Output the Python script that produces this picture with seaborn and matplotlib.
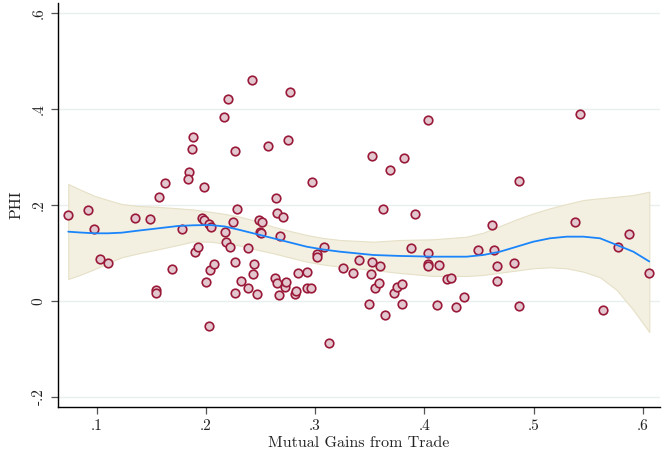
import matplotlib
matplotlib.use("Agg")
import matplotlib.pyplot as plt
import seaborn as sns
import pandas as pd

# ---- scatter data ----
gains = [0.0734, 0.0918, 0.0978, 0.1027, 0.1106, 0.1351, 0.1488, 0.1543, 0.1546, 0.1573,
         0.1625, 0.1692, 0.1781, 0.1842, 0.1839, 0.1873, 0.1885, 0.1903, 0.1930, 0.1962,
         0.1983, 0.1985, 0.1998, 0.2028, 0.2031, 0.2047, 0.2040, 0.2077, 0.2166, 0.2175,
         0.2184, 0.2200, 0.2218, 0.2251, 0.2266, 0.2266, 0.2269, 0.2282, 0.2326, 0.2387,
         0.2385, 0.2425, 0.2436, 0.2445, 0.2471, 0.2489, 0.2514, 0.2498, 0.2502, 0.2566,
         0.2636, 0.2642, 0.2651, 0.2654, 0.2672, 0.2679, 0.2706, 0.2727, 0.2736, 0.2755,
         0.2773, 0.2813, 0.2825, 0.2843, 0.2926, 0.2929, 0.2965, 0.2972, 0.3020, 0.3020,
         0.3082, 0.3130, 0.3253, 0.3350, 0.3402, 0.3494, 0.3515, 0.3521, 0.3521, 0.3546,
         0.3585, 0.3594, 0.3625, 0.3637, 0.3686, 0.3723, 0.3753, 0.3799, 0.3796, 0.3814,
         0.3878, 0.3912, 0.4031, 0.4034, 0.4035, 0.4038, 0.4139, 0.4118, 0.4205, 0.4245,
         0.4288, 0.4361, 0.4489, 0.4617, 0.4638, 0.4663, 0.4663, 0.4819, 0.4867, 0.4870,
         0.5383, 0.5426, 0.5639, 0.5774, 0.5875, 0.6060]
phi = [0.179, 0.190, 0.151, 0.0875, 0.0785, 0.173, 0.171, 0.022, 0.017, 0.216,
       0.246, 0.066, 0.151, 0.269, 0.254, 0.317, 0.341, 0.101, 0.113, 0.172,
       0.169, 0.2375, 0.039, -0.0515, 0.160, 0.1535, 0.0646, 0.077, 0.383, 0.144,
       0.122, 0.421, 0.112, 0.164, 0.3125, 0.081, 0.016, 0.192, 0.0417, 0.111,
       0.026, 0.460, 0.056, 0.076, 0.014, 0.168, 0.164, 0.144, 0.142, 0.3235,
       0.047, 0.2146, 0.184, 0.037, 0.012, 0.135, 0.176, 0.030, 0.039, 0.335,
       0.435, 0.0146, 0.0215, 0.059, 0.026, 0.061, 0.026, 0.248, 0.097, 0.092,
       0.1125, -0.087, 0.069, 0.058, 0.085, -0.006, 0.056, 0.302, 0.081, 0.026,
       0.038, 0.0735, 0.191, -0.029, 0.273, 0.016, 0.0285, 0.035, -0.006, 0.2985,
       0.110, 0.181, 0.100, 0.378, 0.077, 0.073, 0.0746, -0.009, 0.046, 0.047,
       -0.0125, 0.009, 0.106, 0.159, 0.106, 0.072, 0.041, 0.079, 0.2506, -0.0104,
       0.165, 0.389, -0.019, 0.1125, 0.140, 0.059]

# ---- smoothed fit with confidence band ----
fit_x = [0.0740, 0.0847, 0.0984, 0.1103, 0.1229, 0.1378, 0.1534, 0.1747, 0.1885, 0.2038,
         0.2175, 0.2312, 0.2459, 0.2617, 0.2770, 0.2923, 0.3072, 0.3228, 0.3533, 0.3777,
         0.4082, 0.4388, 0.4540, 0.4693, 0.4846, 0.4998, 0.5151, 0.5304, 0.5456, 0.5609,
         0.5762, 0.5914, 0.6060]
fit_y = [0.1444, 0.1427, 0.1410, 0.1410, 0.1423, 0.1465, 0.1506, 0.1563, 0.1577, 0.1583,
         0.1552, 0.1479, 0.1396, 0.1306, 0.1219, 0.1131, 0.1073, 0.1027, 0.0958, 0.0938,
         0.0923, 0.0923, 0.0958, 0.1027, 0.1131, 0.1235, 0.1306, 0.1340, 0.1340, 0.1306,
         0.1167, 0.1027, 0.0823]
fit_hi = [0.2438, 0.2323, 0.2188, 0.2104, 0.2021, 0.1979, 0.1965, 0.1931, 0.1906, 0.1860,
          0.1813, 0.1756, 0.1667, 0.1548, 0.1458, 0.1375, 0.1313, 0.1271, 0.1235, 0.1271,
          0.1285, 0.1340, 0.1423, 0.1563, 0.1702, 0.1827, 0.1931, 0.2021, 0.2104, 0.2140,
          0.2173, 0.2208, 0.2277]
fit_lo = [0.0458, 0.0542, 0.0667, 0.0792, 0.0910, 0.0990, 0.1063, 0.1167, 0.1240, 0.1235,
          0.1198, 0.1156, 0.1073, 0.0994, 0.0906, 0.0819, 0.0760, 0.0715, 0.0646, 0.0583,
          0.0521, 0.0521, 0.0542, 0.0590, 0.0635, 0.0681, 0.0702, 0.0681, 0.0610, 0.0494,
          0.0229, -0.0188, -0.0646]

x_ticks = [0.1, 0.2, 0.3, 0.4, 0.5, 0.6]
x_tick_labels = [".1", ".2", ".3", ".4", ".5", ".6"]
y_ticks = [-0.2, 0.0, 0.2, 0.4, 0.6]
y_tick_labels = ["-.2", "0", ".2", ".4", ".6"]

pts = pd.DataFrame({"gains": gains, "phi": phi})
fit = pd.DataFrame({"x": fit_x, "y": fit_y, "lo": fit_lo, "hi": fit_hi})

sns.set_style("white")
plt.rcParams["font.family"] = ["cmr10", "DejaVu Serif"]
plt.rcParams["axes.formatter.use_mathtext"] = True

fig = plt.figure(figsize=(6.68, 4.66), dpi=100)
ax = fig.add_axes([0.0868, 0.1266, 0.9012, 0.867])

for yt in y_ticks:
    ax.axhline(yt, color="#e9efef", lw=1.0, zorder=0)

ax.fill_between(fit["x"], fit["lo"], fit["hi"], color="#f3f0e2",
                edgecolor="#e6e0c6", lw=0.8, zorder=1)
sns.lineplot(data=fit, x="x", y="y", ax=ax, color="#1a84fa", lw=1.3, zorder=3)
sns.scatterplot(data=pts, x="gains", y="phi", ax=ax, s=38, color="#e3c7cf",
                edgecolor="#9a1838", linewidth=1.2, zorder=2)

ax.set_xlim(0.0646, 0.6158)
ax.set_ylim(-0.221, 0.621)
ax.set_xticks(x_ticks)
ax.set_xticklabels(x_tick_labels)
ax.set_yticks(y_ticks)
ax.set_yticklabels(y_tick_labels, rotation=90, va="center")

for s in ["top", "right"]:
    ax.spines[s].set_visible(False)
for s in ["left", "bottom"]:
    ax.spines[s].set_color("black")
    ax.spines[s].set_linewidth(1.0)

ax.tick_params(axis="both", which="major", direction="out", length=5, width=0.9,
               color="#555555", labelsize=11, labelcolor="#222222", pad=4,
               bottom=True, left=True)
ax.set_xlabel("Mutual Gains from Trade", fontsize=11.5, color="#222222", labelpad=2)
ax.set_ylabel("PHI", fontsize=11.5, color="#222222", labelpad=6)

fig.savefig("out.png", dpi=100)
